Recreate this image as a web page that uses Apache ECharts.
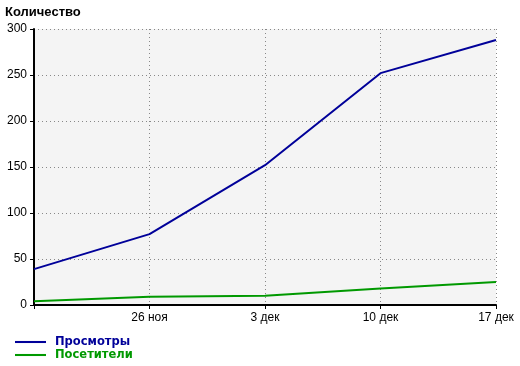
<!DOCTYPE html>
<html><head><meta charset="utf-8">
<script src="https://cdn.jsdelivr.net/npm/echarts@6/dist/echarts.min.js"></script>
<style>html,body{margin:0;padding:0;background:#fff}#c{width:520px;height:366px}</style>
</head><body><div id="c"></div>
<script>
var categories = ['', '26 ноя', '3 дек', '10 дек', '17 дек'];
var views = [39, 77, 152, 252, 288];
var visitors = [4, 9, 10, 18, 25];
var seriesNames = ['Просмотры', 'Посетители'];
var colors = ['#000099', '#009900'];

function legendFor(i, top) {
  return {
    left: 15, top: top, padding: 0,
    itemWidth: 31, itemHeight: 10, icon: 'path://M0,4L30,4L30,6L0,6Z',
    data: [{name: seriesNames[i], textStyle: {color: colors[i]}}],
    textStyle: {fontFamily: 'DejaVu Sans', fontWeight: 'bold', fontSize: 11.5, padding: [0, 0, 0, 4]}
  };
}

var chart = echarts.init(document.getElementById('c'));
chart.setOption({
  animation: false,
  backgroundColor: '#fff',
  title: {
    text: 'Количество', left: 5, top: 6, padding: 0,
    textStyle: {fontFamily: 'Liberation Sans', fontWeight: 'bold', fontSize: 13, color: '#000'}
  },
  legend: [legendFor(0, 336), legendFor(1, 349)],
  grid: {left: 34, right: 24, top: 29, bottom: 61, show: true, backgroundColor: '#f4f4f4', borderWidth: 0},
  xAxis: {
    type: 'category', data: categories, boundaryGap: false,
    axisLine: {lineStyle: {color: '#000', width: 2}},
    axisTick: {show: true, length: 4, lineStyle: {color: '#000'}},
    axisLabel: {color: '#000', fontFamily: 'Liberation Sans', fontSize: 12, margin: 7, showMaxLabel: true},
    splitLine: {show: true, lineStyle: {color: '#888', type: [1, 3], width: 1}}
  },
  yAxis: {
    type: 'value', min: 0, max: 300, interval: 50,
    axisLine: {show: true, lineStyle: {color: '#000', width: 2}},
    axisTick: {show: true, length: 4, lineStyle: {color: '#000'}},
    axisLabel: {color: '#000', fontFamily: 'Liberation Sans', fontSize: 12, margin: 7},
    splitLine: {show: true, lineStyle: {color: '#888', type: [1, 3], width: 1}}
  },
  series: [
    {name: seriesNames[0], type: 'line', data: views, showSymbol: false, symbol: 'none',
     lineStyle: {color: colors[0], width: 2}, itemStyle: {color: colors[0]}},
    {name: seriesNames[1], type: 'line', data: visitors, showSymbol: false, symbol: 'none',
     lineStyle: {color: colors[1], width: 2}, itemStyle: {color: colors[1]}}
  ]
});
</script></body></html>
